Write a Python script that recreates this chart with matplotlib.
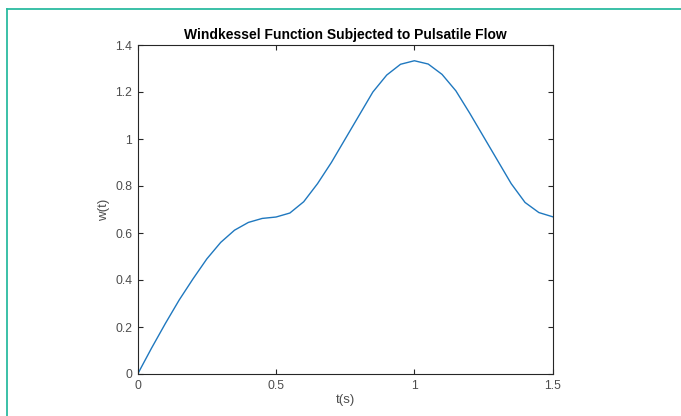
import numpy as np
import matplotlib
matplotlib.use("Agg")
import matplotlib.pyplot as plt
from matplotlib.lines import Line2D

# === DATA ===
t = [0.00, 0.05, 0.10, 0.15, 0.20, 0.25, 0.30, 0.35, 0.40, 0.45,
     0.50, 0.55, 0.60, 0.65, 0.70, 0.75, 0.80, 0.85, 0.90, 0.95,
     1.00, 1.05, 1.10, 1.15, 1.20, 1.25, 1.30, 1.35, 1.40, 1.45, 1.50]
w = [0.000, 0.110, 0.215, 0.315, 0.405, 0.490, 0.560, 0.612, 0.645, 0.662,
     0.668, 0.685, 0.733, 0.810, 0.900, 1.000, 1.100, 1.200, 1.272, 1.318,
     1.333, 1.319, 1.275, 1.205, 1.110, 1.010, 0.910, 0.810, 0.730, 0.687,
     0.669]
xticks = [0, 0.5, 1, 1.5]
xtick_labels = ["0", "0.5", "1", "1.5"]
yticks = [0, 0.2, 0.4, 0.6, 0.8, 1.0, 1.2, 1.4]
ytick_labels = ["0", "0.2", "0.4", "0.6", "0.8", "1", "1.2", "1.4"]

plt.rcParams['font.family'] = ['Liberation Sans', 'DejaVu Sans']

W, H = 681, 416
fig = plt.figure(figsize=(W / 100, H / 100), dpi=100)
fig.patch.set_facecolor("white")

ax = fig.add_axes([137.7 / W, 1 - 374 / H, (552.7 - 137.7) / W, (374 - 45) / H])
ax.plot(t, w, color="#1f78bf", lw=1.0)

ax.set_xlim(0, 1.5)
ax.set_ylim(0, 1.4)
ax.set_xticks(xticks)
ax.set_xticklabels(xtick_labels)
ax.set_yticks(yticks)
ax.set_yticklabels(ytick_labels)

axc = "#262626"
for s in ax.spines.values():
    s.set_color(axc)
    s.set_linewidth(0.8)
ax.tick_params(direction="in", top=True, right=True, length=3.5, width=0.8,
               color=axc, labelcolor="#4d4d4d", labelsize=8.8, pad=4)

ax.set_title("Windkessel Function Subjected to Pulsatile Flow",
             fontsize=10, fontweight="bold", color="black", pad=4)
ax.set_xlabel("t(s)", fontsize=9.5, color="#4d4d4d", labelpad=2)
ax.set_ylabel("w(t)", fontsize=9.5, color="#4d4d4d", labelpad=4)

# teal frame on the left and top edges
teal = "#2bbba0"
fig.add_artist(Line2D([7 / W, 7 / W], [0, 1 - 9 / H], transform=fig.transFigure,
                      color=teal, lw=1.3))
fig.add_artist(Line2D([7 / W, 1], [1 - 9 / H, 1 - 9 / H], transform=fig.transFigure,
                      color=teal, lw=1.3))

fig.savefig("out.png", dpi=100)
